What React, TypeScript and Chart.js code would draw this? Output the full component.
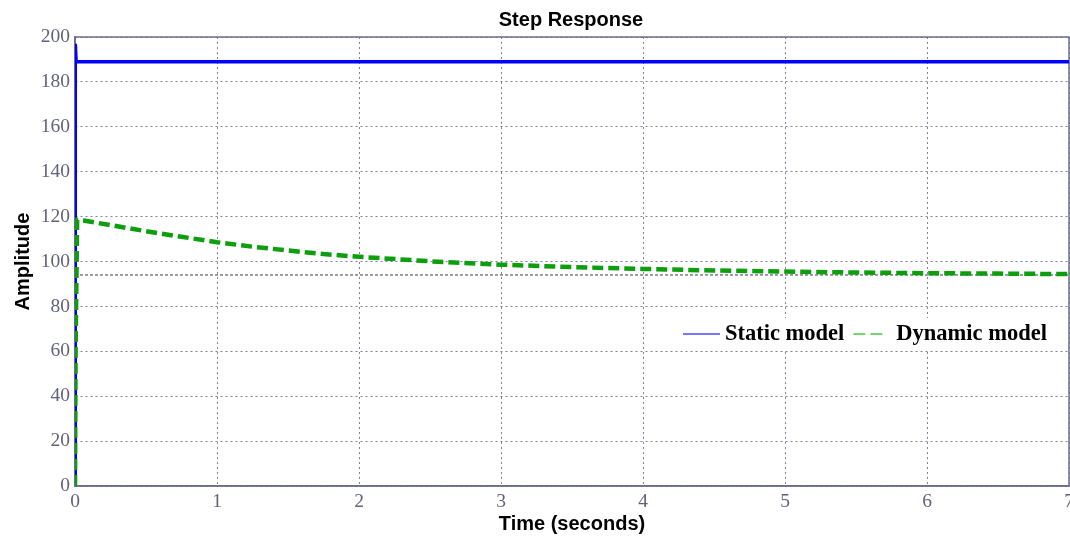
import React, { useEffect, useRef } from "react";
import { Chart, registerables } from "chart.js";

Chart.register(...registerables);

const staticTimes = [0, 0.0, 0.004, 0.008, 7];
const staticValues = [0, 197, 197, 189, 189];

const dynamicTimes = [0, 0.004, 0.015, 0.06, 0.25, 0.5, 0.75, 1, 1.25, 1.5, 1.75, 2, 2.5, 3, 3.5, 4, 4.5, 5, 5.5, 6, 6.5, 7];
const dynamicValues = [0, 60, 118.5, 118.3, 116.2, 113.5, 111, 108.6, 106.6, 104.9, 103.3, 102.1, 100.1, 98.6, 97.5, 96.7, 96, 95.5, 95.1, 94.8, 94.6, 94.4];

const steadyTimes = [0, 7];
const steadyValues = [94, 94];

const xTicks = [0, 1, 2, 3, 4, 5, 6, 7];
const yTicks = [0, 20, 40, 60, 80, 100, 120, 140, 160, 180, 200];

const legendLabels = ["Static model", "Dynamic model"];

const toPoints = (xs: number[], ys: number[]) => xs.map((x, i) => ({ x, y: ys[i] }));

const GRID = "#8080a0";
const AXIS = "#6c6c8c";
const TICK = "#62627a";

export default function App() {
  const ref = useRef<HTMLCanvasElement | null>(null);
  useEffect(() => {
    document.body.style.margin = "0";
    const canvas = ref.current!;
    const framePlugin = {
      id: "frame",
      beforeDatasetsDraw(chart: any) {
        const { ctx, chartArea: a } = chart;
        ctx.save();
        ctx.strokeStyle = AXIS;
        ctx.lineWidth = 1.5;
        ctx.strokeRect(a.left, a.top, a.right - a.left, a.bottom - a.top);
        ctx.restore();
      },
      afterDraw(chart: any) {
        const { ctx, chartArea: a } = chart;
        ctx.save();
        ctx.fillStyle = "#000";
        ctx.font = "bold 20px 'Liberation Sans', Arial, sans-serif";
        ctx.textAlign = "center";
        ctx.textBaseline = "middle";
        ctx.fillText("Step Response", (a.left + a.right) / 2 - 1, 20);
        const ly = 334;
        const lx = 683;
        ctx.fillStyle = "#fff";
        ctx.fillRect(lx - 8, ly - 16, 380, 31);
        ctx.lineWidth = 1.6;
        ctx.strokeStyle = "#4a4aff";
        ctx.beginPath();
        ctx.moveTo(lx, ly);
        ctx.lineTo(lx + 37, ly);
        ctx.stroke();
        ctx.font = "bold 22.5px 'Liberation Serif', 'Times New Roman', serif";
        ctx.textAlign = "left";
        ctx.fillStyle = "#000";
        ctx.fillText(legendLabels[0], lx + 42, ly);
        const w0 = ctx.measureText(legendLabels[0]).width;
        const gx = lx + 42 + w0 + 9;
        ctx.strokeStyle = "#44c844";
        ctx.setLineDash([12, 5]);
        ctx.beginPath();
        ctx.moveTo(gx, ly);
        ctx.lineTo(gx + 30, ly);
        ctx.stroke();
        ctx.setLineDash([]);
        ctx.fillText(legendLabels[1], gx + 43, ly);
        ctx.restore();
      },
    };

    const chart = new Chart(canvas, {
      type: "line",
      data: {
        datasets: [
          {
            label: legendLabels[1],
            data: toPoints(dynamicTimes, dynamicValues),
            borderColor: "#0d9e0d",
            borderWidth: 4.5,
            borderDash: [11, 5],
            pointRadius: 0,
            tension: 0,
          },
          {
            label: legendLabels[0],
            data: toPoints(staticTimes, staticValues),
            borderColor: "#0000ff",
            borderWidth: 3.5,
            pointRadius: 0,
            tension: 0,
          },
          {
            label: "steady",
            data: toPoints(steadyTimes, steadyValues),
            borderColor: "#3a3a4a",
            borderWidth: 1,
            borderDash: [3, 2],
            pointRadius: 0,
          },
        ],
      },
      options: {
        animation: false,
        responsive: false,
        maintainAspectRatio: false,
        layout: { padding: { top: 37, right: 1, left: 0, bottom: 0 } },
        plugins: { legend: { display: false }, tooltip: { enabled: false }, title: { display: false } },
        scales: {
          x: {
            type: "linear",
            min: 0,
            max: 7,
            afterBuildTicks: (s: any) => {
              s.ticks = xTicks.map((v) => ({ value: v }));
            },
            afterFit: (s: any) => {
              s.height = 52;
              s.paddingLeft = 0;
              s.paddingRight = 0;
            },
            grid: { color: GRID, lineWidth: 1, drawTicks: false },
            border: { display: true, color: AXIS, width: 1.5, dash: [2, 3] } as any,
            ticks: {
              color: TICK,
              padding: 4,
              maxRotation: 0,
              autoSkip: false,
              font: { family: "'Liberation Serif', 'Times New Roman', serif", size: 19.5 },
            },
            title: {
              display: true,
              text: "Time (seconds)",
              color: "#000",
              padding: { top: 0, bottom: 2 },
              font: { family: "'Liberation Sans', Arial, sans-serif", size: 20, weight: "bold" },
            },
          },
          y: {
            type: "linear",
            min: 0,
            max: 200,
            afterBuildTicks: (s: any) => {
              s.ticks = yTicks.map((v) => ({ value: v }));
            },
            afterFit: (s: any) => {
              s.width = 75;
            },
            grid: { color: GRID, lineWidth: 1, drawTicks: false },
            border: { display: true, color: AXIS, width: 1.5, dash: [2, 3] } as any,
            ticks: {
              color: TICK,
              padding: 5,
              autoSkip: false,
              font: { family: "'Liberation Serif', 'Times New Roman', serif", size: 19.5 },
            },
            title: {
              display: true,
              text: "Amplitude",
              color: "#000",
              padding: { top: 11, bottom: 0 },
              font: { family: "'Liberation Sans', Arial, sans-serif", size: 20, weight: "bold" },
            },
          },
        },
      },
      plugins: [framePlugin],
    } as any);
    return () => chart.destroy();
  }, []);
  return (
    <div style={{ position: "absolute", left: 0, top: 0, width: 1070, height: 538, background: "#fff" }}>
      <canvas ref={ref} width={1070} height={538} style={{ width: 1070, height: 538, display: "block" }} />
    </div>
  );
}
